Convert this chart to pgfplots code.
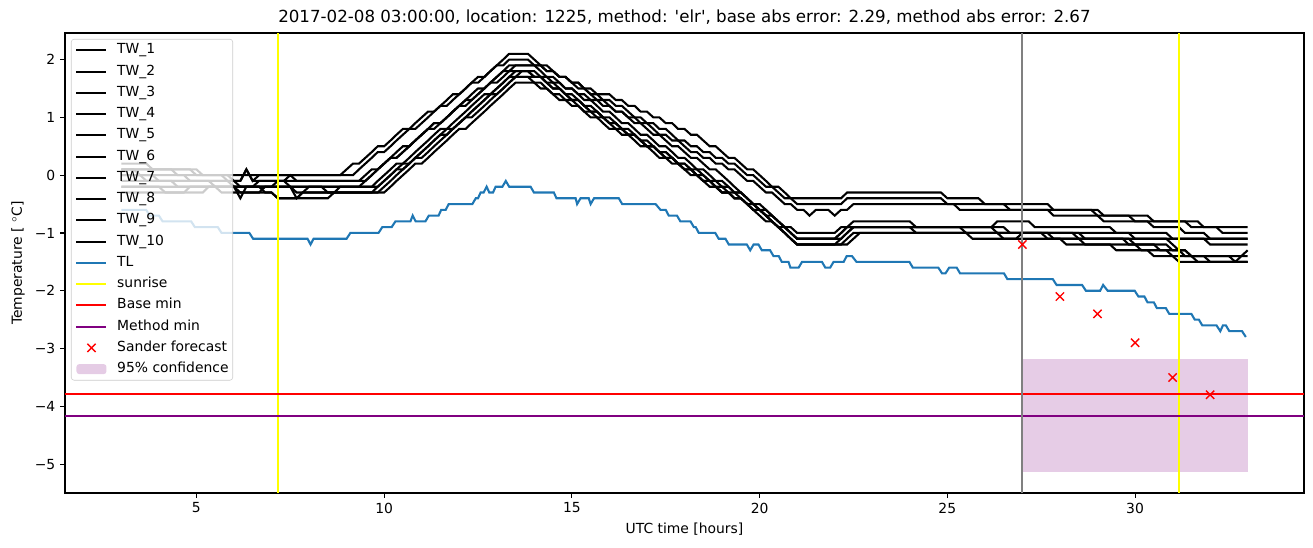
\documentclass[border=0pt]{standalone}
\usepackage{pgfplots}
\pgfplotsset{compat=1.18}
\usepackage{fontspec}
\setmainfont{DejaVu Sans}
\definecolor{tlblue}{HTML}{1F77B4}
\definecolor{mplpurple}{RGB}{128,0,128}
\definecolor{mplyellow}{RGB}{255,255,0}
\definecolor{mplgray}{RGB}{128,128,128}
\pgfplotsset{
  markleg/.style={legend image code/.code={\draw[draw opacity=1,##1] plot coordinates {(10.8pt,0pt)};}},
  tw/.style={black, line width=1.5pt},
}
\begin{document}
\begin{tikzpicture}
\begin{axis}[
  scale only axis, width=892.1pt, height=331.2pt,
  xmin=1.5, xmax=34.5, ymin=-5.5, ymax=2.46,
  axis line style={line width=0.8pt},
  tick align=outside, major tick length=3.5pt,
  every tick/.style={black, line width=0.8pt},
  xtick={5,10,15,20,25,30}, xticklabels={5,10,15,20,25,30},
  ytick={-5,-4,-3,-2,-1,0,1,2},
  yticklabels={−5,−4,−3,−2,−1,0,1,2},
  tick label style={font=\fontsize{10}{12}\selectfont},
  xtick pos=bottom, ytick pos=left,
  xlabel={UTC time [hours]},
  ylabel={Temperature [ $^\circ$C]},
  label style={font=\fontsize{10}{12}\selectfont},
  xlabel style={at={(axis description cs:0.5,-0.0783)}, anchor=center},
  ylabel style={at={(axis description cs:-0.0379,0.5)}, anchor=center},
  title={2017-02-08 03:00:00, location: 1225, method: \textquotesingle elr\textquotesingle, base abs error: 2.29, method abs error: 2.67},
  title style={font=\fontsize{12}{14}\selectfont, at={(axis description cs:0.5,1.0348)}, anchor=center, yshift=-6pt},
  legend style={at={(axis description cs:0.00484,0.987)}, anchor=north west,
    font=\fontsize{10}{12}\selectfont, draw=white!80!black,
    rounded corners=2pt, fill=white, fill opacity=0.8, text opacity=1,
    inner xsep=3pt, inner ysep=3pt, row sep=5.3pt,
    nodes={inner sep=0pt, text height=7.5pt, text depth=2.5pt},
    /tikz/every odd column/.append style={column sep=7pt}},
  legend cell align=left,
  legend image code/.code={\draw[line width=1.5pt,draw opacity=1,#1] (0pt,0pt) -- (21.6pt,0pt);},
]
\coordinate (sw) at (rel axis cs:0,0);
\coordinate (ne) at (rel axis cs:1,1);
% 95% confidence area
\addplot[draw=none, fill=mplpurple, fill opacity=0.2, forget plot] coordinates {(27,-5.14)(33,-5.14)(33,-3.18)(27,-3.18)} -- cycle;
% TW lines
\addplot[tw] coordinates {(3,0.1)(4.33,0.1)(4.5,0.0)(5.67,0.0)(5.83,-0.1)(6.17,-0.1)(6.33,0.1)(6.5,-0.1)(6.67,0.0)(8.83,0.0)
 (9.0,0.1)(9.17,0.2)(9.33,0.2)(9.5,0.3)(9.67,0.4)(9.83,0.5)(10.0,0.5)(10.17,0.6)(10.33,0.7)(10.5,0.8)(10.67,0.8)(10.83,0.9)(11.0,1.0)(11.17,1.1)(11.33,1.1)(11.5,1.2)(11.67,1.3)(11.83,1.4)(12.0,1.4)(12.17,1.5)(12.33,1.6)(12.5,1.7)(12.67,1.7)(12.83,1.8)(13.0,1.9)(13.17,2.0)(13.33,2.1)(13.83,2.1)
 (14.0,2.0)(14.17,1.9)(14.33,1.9)(14.5,1.8)(14.67,1.7)(14.83,1.7)(15.0,1.6)(15.17,1.5)(15.33,1.5)(15.5,1.4)(15.67,1.3)(15.83,1.3)(16.0,1.2)(16.17,1.1)(16.33,1.1)(16.5,1.0)(16.67,0.9)(16.83,0.9)(17.0,0.8)(17.17,0.7)(17.33,0.7)(17.5,0.6)(17.67,0.5)(17.83,0.5)(18.0,0.4)(18.17,0.3)(18.33,0.3)(18.5,0.2)(18.67,0.1)(18.83,0.1)(19.0,0.0)(19.17,-0.1)(19.33,-0.2)(19.5,-0.3)(19.67,-0.4)(19.83,-0.5)(20.0,-0.5)(20.17,-0.6)(20.33,-0.7)(20.5,-0.8)(20.67,-0.9)(20.83,-1.0)(21.0,-1.1)
 (22.0,-1.1)(22.17,-1.0)(22.33,-0.9)(22.5,-0.8)(24.0,-0.8)(24.17,-0.9)(26.17,-0.9)(26.33,-0.8)(27.17,-0.8)(27.33,-0.9)(29.33,-0.9)(29.5,-1.0)(30.83,-1.0)(31.0,-1.1)(31.83,-1.1)(32.0,-1.2)(33,-1.2)};
\addlegendentry{TW\_1}
\addplot[tw] coordinates {(3,0.2)(3.67,0.2)(3.83,0.1)(5.0,0.1)(5.17,0.0)(9.17,0.0)
 (9.33,0.1)(9.5,0.2)(9.67,0.3)(9.83,0.4)(10.0,0.4)(10.17,0.5)(10.33,0.6)(10.5,0.7)(10.67,0.8)(10.83,0.8)(11.0,0.9)(11.17,1.0)(11.33,1.1)(11.5,1.2)(11.67,1.2)(11.83,1.3)(12.0,1.4)(12.17,1.5)(12.33,1.6)(12.5,1.6)(12.67,1.7)(12.83,1.8)(13.0,1.9)(13.17,1.9)(13.33,2.0)(13.83,2.0)
 (14.0,1.9)(14.17,1.9)(14.33,1.8)(14.5,1.8)(14.67,1.7)(14.83,1.7)(15.0,1.6)(15.17,1.6)(15.33,1.5)(15.5,1.5)(15.67,1.4)(16.0,1.4)(16.17,1.3)(16.33,1.3)(16.5,1.2)(16.67,1.2)(16.83,1.1)(17.0,1.1)(17.17,1.0)(17.33,1.0)(17.5,0.9)(17.67,0.9)(17.83,0.8)(18.0,0.8)(18.17,0.7)(18.33,0.7)(18.5,0.6)(18.67,0.5)(18.83,0.5)(19.0,0.4)(19.17,0.3)(19.33,0.3)(19.5,0.2)(19.67,0.1)(19.83,0.1)(20.0,0.0)(20.17,-0.1)(20.33,-0.2)(20.5,-0.2)(20.67,-0.3)(20.83,-0.4)
 (22.17,-0.4)(22.33,-0.3)(24.83,-0.3)(25.0,-0.4)(25.83,-0.4)(26.0,-0.5)(27.67,-0.5)(27.83,-0.6)(29.0,-0.6)(29.17,-0.7)(29.83,-0.7)(30.0,-0.8)(31.67,-0.8)(31.83,-0.9)(33,-0.9)};
\addlegendentry{TW\_2}
\addplot[tw] coordinates {(3,0.0)(3.83,0.0)(4.0,-0.1)(5.83,-0.1)(6.0,-0.2)(6.17,-0.4)(6.33,-0.2)(9.33,-0.2)
 (9.5,-0.1)(9.67,0.0)(9.83,0.1)(10.0,0.2)(10.17,0.3)(10.33,0.3)(10.5,0.4)(10.67,0.5)(10.83,0.6)(11.0,0.7)(11.17,0.8)(11.33,0.9)(11.5,0.9)(11.67,1.0)(11.83,1.1)(12.0,1.2)(12.17,1.3)(12.33,1.4)(12.5,1.5)(12.67,1.5)(12.83,1.6)(13.0,1.7)(13.17,1.8)(13.33,1.9)(14.0,1.9)
 (14.17,1.8)(14.33,1.7)(14.5,1.7)(14.67,1.6)(14.83,1.5)(15.0,1.5)(15.17,1.4)(15.33,1.3)(15.5,1.3)(15.67,1.2)(15.83,1.1)(16.0,1.1)(16.17,1.0)(16.33,0.9)(16.5,0.9)(16.67,0.8)(16.83,0.7)(17.0,0.7)(17.17,0.6)(17.33,0.5)(17.5,0.5)(17.67,0.4)(17.83,0.3)(18.0,0.3)(18.17,0.2)(18.33,0.1)(18.5,0.1)(18.67,0.0)(18.83,-0.1)(19.0,-0.1)(19.17,-0.2)(19.33,-0.3)(19.5,-0.3)(19.67,-0.4)(19.83,-0.5)(20.0,-0.6)(20.17,-0.7)(20.33,-0.8)(20.5,-0.9)(20.67,-1.0)(20.83,-1.1)(21.0,-1.2)
 (22.0,-1.2)(22.17,-1.1)(22.33,-1.0)(22.5,-0.9)(25.33,-0.9)(25.5,-1.0)(27.5,-1.0)(27.67,-1.1)(28.5,-1.1)(28.67,-1.2)(30.0,-1.2)(30.17,-1.3)(30.83,-1.3)(31.0,-1.4)(31.83,-1.4)(32.0,-1.5)(33,-1.5)};
\addlegendentry{TW\_3}
\addplot[tw] coordinates {(3,0.1)(4.83,0.1)(5.0,0.0)(5.83,0.0)(6.0,-0.1)(6.17,-0.2)(7.0,-0.2)(7.17,-0.1)(9.5,-0.1)
 (9.67,0.0)(9.83,0.1)(10.0,0.2)(10.17,0.3)(10.33,0.3)(10.5,0.4)(10.67,0.5)(10.83,0.6)(11.0,0.7)(11.17,0.8)(11.33,0.8)(11.5,0.9)(11.67,1.0)(11.83,1.1)(12.0,1.2)(12.17,1.2)(12.33,1.3)(12.5,1.4)(12.67,1.5)(12.83,1.6)(13.0,1.6)(13.17,1.7)(13.33,1.8)(13.5,1.9)(14.17,1.9)
 (14.33,1.8)(14.5,1.8)(14.67,1.7)(14.83,1.7)(15.0,1.6)(15.17,1.6)(15.33,1.5)(15.5,1.4)(15.67,1.4)(15.83,1.3)(16.0,1.3)(16.17,1.2)(16.33,1.2)(16.5,1.1)(16.67,1.0)(16.83,1.0)(17.0,0.9)(17.17,0.9)(17.33,0.8)(17.5,0.8)(17.67,0.7)(17.83,0.6)(18.0,0.6)(18.17,0.5)(18.33,0.5)(18.5,0.4)(18.67,0.4)(18.83,0.3)(19.0,0.3)(19.17,0.2)(19.33,0.2)(19.5,0.1)(19.67,0.0)(19.83,0.0)(20.0,-0.1)(20.17,-0.2)(20.33,-0.2)(20.5,-0.3)(20.67,-0.4)(20.83,-0.4)(21.0,-0.5)
 (22.17,-0.5)(22.33,-0.4)(24.83,-0.4)(25.0,-0.5)(26.5,-0.5)(26.67,-0.6)(28.83,-0.6)(29.0,-0.7)(30.33,-0.7)(30.5,-0.8)(31.33,-0.8)(31.5,-0.9)(32.17,-0.9)(32.33,-1.0)(33,-1.0)};
\addlegendentry{TW\_4}
\addplot[tw] coordinates {(3,-0.1)(4.33,-0.1)(4.5,-0.2)(6.67,-0.2)(6.83,-0.3)(7.0,-0.3)(7.17,-0.4)(7.67,-0.4)(7.83,-0.3)(8.0,-0.2)(9.67,-0.2)
 (9.83,-0.1)(10.0,0.0)(10.17,0.1)(10.33,0.2)(10.5,0.2)(10.67,0.3)(10.83,0.4)(11.0,0.5)(11.17,0.6)(11.33,0.7)(11.5,0.8)(11.67,0.8)(11.83,0.9)(12.0,1.0)(12.17,1.1)(12.33,1.2)(12.5,1.3)(12.67,1.4)(12.83,1.4)(13.0,1.5)(13.17,1.6)(13.33,1.7)(13.5,1.8)(14.0,1.8)
 (14.17,1.7)(14.33,1.6)(14.5,1.6)(14.67,1.5)(14.83,1.4)(15.0,1.4)(15.17,1.3)(15.33,1.2)(15.5,1.2)(15.67,1.1)(15.83,1.0)(16.0,1.0)(16.17,0.9)(16.33,0.8)(16.5,0.8)(16.67,0.7)(16.83,0.6)(17.0,0.6)(17.17,0.5)(17.33,0.4)(17.5,0.4)(17.67,0.3)(17.83,0.2)(18.0,0.2)(18.17,0.1)(18.33,0.0)(18.5,0.0)(18.67,-0.1)(18.83,-0.2)(19.0,-0.2)(19.17,-0.3)(19.33,-0.4)(19.5,-0.4)(19.67,-0.5)(19.83,-0.6)(20.0,-0.6)(20.17,-0.7)(20.33,-0.8)(20.5,-0.9)(20.67,-0.9)(20.83,-1.0)(21.0,-1.1)
 (22.17,-1.1)(22.33,-1.0)(22.5,-0.9)(24.0,-0.9)(24.17,-1.0)(26.33,-1.0)(26.5,-1.1)(28.0,-1.1)(28.17,-1.2)(29.33,-1.2)(29.5,-1.3)(30.33,-1.3)(30.5,-1.4)(31.0,-1.4)(31.17,-1.5)(32.67,-1.5)(32.83,-1.4)(33.0,-1.3)};
\addlegendentry{TW\_5}
\addplot[tw] coordinates {(3,0.0)(3.5,0.0)(3.67,-0.1)(5.33,-0.1)(5.5,-0.2)(6.5,-0.2)(6.67,-0.1)(7.33,-0.1)(7.5,-0.2)(7.67,-0.3)(8.67,-0.3)(8.83,-0.2)(9.83,-0.2)
 (10.0,-0.1)(10.17,0.0)(10.33,0.1)(10.5,0.2)(10.67,0.2)(10.83,0.3)(11.0,0.4)(11.17,0.5)(11.33,0.6)(11.5,0.7)(11.67,0.8)(11.83,0.8)(12.0,0.9)(12.17,1.0)(12.33,1.1)(12.5,1.2)(12.67,1.3)(12.83,1.4)(13.0,1.4)(13.17,1.5)(13.33,1.6)(13.5,1.7)(13.67,1.8)(13.83,1.8)
 (14.0,1.7)(14.17,1.7)(14.33,1.6)(14.5,1.5)(14.67,1.5)(14.83,1.4)(15.0,1.3)(15.17,1.3)(15.33,1.2)(15.5,1.1)(15.67,1.1)(15.83,1.0)(16.0,0.9)(16.17,0.9)(16.33,0.8)(16.5,0.7)(16.67,0.7)(16.83,0.6)(17.0,0.5)(17.17,0.5)(17.33,0.4)(17.5,0.3)(17.67,0.3)(17.83,0.2)(18.0,0.1)(18.17,0.1)(18.33,0.0)(18.5,-0.1)(18.67,-0.1)(18.83,-0.2)(19.0,-0.3)(19.33,-0.3)(19.5,-0.4)(19.67,-0.5)(19.83,-0.5)(20.0,-0.6)(20.17,-0.7)(20.33,-0.7)(20.5,-0.8)(20.67,-0.9)(20.83,-0.9)(21.0,-1.0)
 (22.0,-1.0)(22.17,-0.9)(26.17,-0.9)(26.33,-1.0)(28.5,-1.0)(28.67,-1.1)(30.83,-1.1)(31.0,-1.2)(31.17,-1.3)(31.33,-1.4)(33,-1.4)};
\addlegendentry{TW\_6}
\addplot[tw] coordinates {(3,-0.2)(4.0,-0.2)(4.17,-0.3)(5.17,-0.3)(5.33,-0.2)(7.5,-0.2)(7.67,-0.4)(7.83,-0.3)(9.83,-0.3)
 (10.0,-0.2)(10.17,-0.1)(10.33,0.0)(10.5,0.1)(10.67,0.2)(10.83,0.3)(11.0,0.3)(11.17,0.4)(11.33,0.5)(11.5,0.6)(11.67,0.7)(11.83,0.8)(12.0,0.9)(12.17,1.0)(12.33,1.0)(12.5,1.1)(12.67,1.2)(12.83,1.3)(13.0,1.4)(13.17,1.5)(13.33,1.6)(13.5,1.7)(14.17,1.7)
 (14.33,1.6)(14.5,1.5)(14.67,1.5)(14.83,1.4)(15.0,1.3)(15.17,1.3)(15.33,1.2)(15.5,1.1)(15.67,1.1)(15.83,1.0)(16.0,0.9)(16.17,0.9)(16.33,0.8)(16.5,0.7)(16.67,0.7)(16.83,0.6)(17.0,0.5)(17.17,0.5)(17.33,0.4)(17.5,0.3)(17.67,0.3)(17.83,0.2)(18.0,0.1)(18.17,0.1)(18.33,0.0)(18.5,-0.1)(18.67,-0.1)(18.83,-0.2)(19.0,-0.3)(19.17,-0.3)(19.33,-0.4)(19.5,-0.4)(19.67,-0.5)(19.83,-0.6)(20.0,-0.7)(20.17,-0.8)(20.33,-0.8)(20.5,-0.9)(20.67,-1.0)(20.83,-1.1)(21.0,-1.2)
 (22.17,-1.2)(22.33,-1.1)(22.5,-1.0)(25.5,-1.0)(25.67,-1.1)(26.83,-1.1)(27.0,-1.0)(28.33,-1.0)(28.5,-1.1)(29.67,-1.1)(29.83,-1.2)(30.5,-1.2)(30.67,-1.3)(31.33,-1.3)(31.5,-1.4)(31.67,-1.5)(33,-1.5)};
\addlegendentry{TW\_7}
\addplot[tw] coordinates {(3,-0.3)(4.67,-0.3)(4.83,-0.2)(6.0,-0.2)(6.17,-0.3)(7.0,-0.3)(7.17,-0.4)(8.5,-0.4)(8.67,-0.3)(9.67,-0.3)
 (9.83,-0.2)(10.0,-0.1)(10.17,0.0)(10.33,0.1)(10.5,0.1)(10.67,0.2)(10.83,0.3)(11.0,0.4)(11.17,0.5)(11.33,0.6)(11.5,0.7)(11.67,0.7)(11.83,0.8)(12.0,0.9)(12.17,1.0)(12.33,1.1)(12.5,1.2)(12.67,1.3)(12.83,1.4)(13.0,1.5)(13.17,1.6)(13.33,1.7)(13.83,1.7)
 (14.0,1.6)(14.17,1.6)(14.33,1.5)(14.5,1.4)(14.67,1.4)(14.83,1.3)(15.0,1.3)(15.17,1.2)(15.33,1.1)(15.5,1.1)(15.67,1.0)(15.83,1.0)(16.0,0.9)(16.17,0.8)(16.33,0.8)(16.5,0.7)(16.67,0.7)(16.83,0.6)(17.0,0.5)(17.17,0.5)(17.33,0.4)(17.5,0.4)(17.67,0.3)(17.83,0.2)(18.0,0.2)(18.17,0.1)(18.33,0.1)(18.5,0.0)(18.67,-0.1)(18.83,-0.1)(19.0,-0.2)(19.17,-0.2)(19.33,-0.3)(19.5,-0.3)(19.67,-0.4)(19.83,-0.5)(20.0,-0.6)(20.17,-0.6)(20.33,-0.7)(20.5,-0.8)(20.67,-0.9)(20.83,-1.0)(21.0,-1.1)
 (22.0,-1.1)(22.17,-1.0)(22.33,-0.9)(26.5,-0.9)(26.67,-1.0)(29.83,-1.0)(30.0,-1.1)(33,-1.1)};
\addlegendentry{TW\_8}
\addplot[tw] coordinates {(3,-0.2)(5.5,-0.2)(5.67,-0.3)(6.67,-0.3)(6.83,-0.2)(8.33,-0.2)(8.5,-0.3)(10.0,-0.3)
 (10.17,-0.2)(10.33,-0.1)(10.5,0.0)(10.67,0.1)(10.83,0.2)(11.0,0.2)(11.17,0.3)(11.33,0.4)(11.5,0.5)(11.67,0.6)(11.83,0.7)(12.0,0.8)(12.17,0.8)(12.33,0.9)(12.5,1.0)(12.67,1.1)(12.83,1.2)(13.0,1.3)(13.17,1.4)(13.33,1.5)(13.5,1.6)(14.0,1.6)
 (14.17,1.5)(14.33,1.5)(14.5,1.4)(14.67,1.3)(14.83,1.3)(15.0,1.2)(15.17,1.2)(15.33,1.1)(15.5,1.0)(15.67,1.0)(15.83,0.9)(16.0,0.8)(16.17,0.8)(16.33,0.7)(16.5,0.7)(16.67,0.6)(16.83,0.5)(17.0,0.5)(17.17,0.4)(17.33,0.3)(17.5,0.3)(17.67,0.2)(17.83,0.2)(18.0,0.1)(18.17,0.0)(18.33,0.0)(18.5,-0.1)(18.67,-0.2)(18.83,-0.2)(19.0,-0.3)(19.17,-0.3)(19.33,-0.4)(19.5,-0.4)(19.67,-0.5)(19.83,-0.6)(20.0,-0.6)(20.17,-0.7)(20.33,-0.8)(20.5,-0.9)(20.67,-1.0)(20.83,-1.1)(21.0,-1.2)
 (22.33,-1.2)(22.5,-1.1)(22.67,-1.0)(27.67,-1.0)(27.83,-1.1)(29.83,-1.1)(30.0,-1.2)(30.83,-1.2)(31.0,-1.3)(31.33,-1.3)(31.5,-1.4)(32.5,-1.4)(32.67,-1.5)(33,-1.5)};
\addlegendentry{TW\_9}
\addplot[tw] coordinates {(3,0.1)(3.33,0.1)(3.5,0.0)(4.67,0.0)(4.83,-0.1)(6.17,-0.1)(6.33,0.1)(6.5,-0.1)(7.33,-0.1)(7.5,0.0)(7.67,-0.1)(9.33,-0.1)
 (9.5,0.0)(9.67,0.1)(9.83,0.1)(10.0,0.2)(10.17,0.3)(10.33,0.4)(10.5,0.5)(10.67,0.5)(10.83,0.6)(11.0,0.7)(11.17,0.8)(11.33,0.9)(11.5,0.9)(11.67,1.0)(11.83,1.1)(12.0,1.2)(12.17,1.3)(12.33,1.3)(12.5,1.4)(12.67,1.5)(12.83,1.6)(13.0,1.7)(13.17,1.8)(13.83,1.8)
 (14.0,1.7)(14.33,1.7)(14.5,1.6)(14.67,1.6)(14.83,1.5)(15.0,1.5)(15.17,1.4)(15.33,1.4)(15.5,1.3)(15.67,1.3)(15.83,1.2)(16.0,1.2)(16.17,1.1)(16.33,1.1)(16.5,1.0)(16.67,1.0)(16.83,0.9)(17.0,0.9)(17.17,0.8)(17.33,0.7)(17.5,0.7)(17.67,0.6)(17.83,0.6)(18.0,0.5)(18.17,0.4)(18.33,0.4)(18.5,0.3)(18.67,0.3)(18.83,0.2)(19.0,0.2)(19.17,0.1)(19.33,0.1)(19.5,0.0)(19.67,-0.1)(19.83,-0.1)(20.0,-0.2)(20.17,-0.3)(20.33,-0.3)(20.5,-0.4)(20.67,-0.5)(20.83,-0.5)(21.0,-0.6)
 (21.17,-0.6)(21.33,-0.7)(21.5,-0.6)(21.83,-0.6)(22.0,-0.7)(22.17,-0.6)(22.33,-0.6)(22.5,-0.5)(25.17,-0.5)(25.33,-0.6)(27.67,-0.6)(27.83,-0.7)(29.0,-0.7)(29.17,-0.8)(30.33,-0.8)(30.5,-0.9)(31.17,-0.9)(31.33,-1.0)(31.83,-1.0)(32.0,-1.1)(33,-1.1)};
\addlegendentry{TW\_10}
% TL
\addplot[tlblue, line width=1.5pt] coordinates {(3.0,-0.6)(3.66,-0.6)(3.76,-0.7)(4.0,-0.7)(4.1,-0.8)(4.86,-0.8)(4.96,-0.9)(5.57,-0.9)(5.67,-1.0)(6.41,-1.0)(6.51,-1.1)(7.96,-1.1)(8.04,-1.2)(8.12,-1.1)(9.0,-1.1)(9.1,-1.0)(9.85,-1.0)(9.95,-0.9)(10.2,-0.9)(10.3,-0.8)(10.7,-0.8)(10.76,-0.7)(10.84,-0.8)(11.1,-0.8)(11.19,-0.7)(11.45,-0.7)(11.52,-0.6)(11.64,-0.6)(11.72,-0.5)(12.35,-0.5)(12.44,-0.4)(12.5,-0.4)(12.57,-0.3)(12.65,-0.3)(12.73,-0.2)(12.8,-0.3)(12.9,-0.3)(12.97,-0.2)(13.15,-0.2)(13.24,-0.1)(13.33,-0.2)(13.9,-0.2)(13.99,-0.3)(14.52,-0.3)(14.59,-0.4)(15.1,-0.4)(15.14,-0.5)(15.23,-0.4)(15.45,-0.4)(15.5,-0.5)(15.59,-0.4)(16.25,-0.4)(16.34,-0.5)(17.23,-0.5)(17.36,-0.6)(17.5,-0.6)(17.58,-0.7)(17.8,-0.7)(17.89,-0.8)(18.16,-0.8)(18.25,-0.9)(18.3,-0.9)(18.38,-1.0)(18.82,-1.0)(18.91,-1.1)(19.09,-1.1)(19.18,-1.2)(19.66,-1.2)(19.75,-1.3)(19.84,-1.2)(19.97,-1.2)(20.06,-1.3)(20.28,-1.3)(20.37,-1.4)(20.51,-1.4)(20.59,-1.5)(20.77,-1.5)(20.82,-1.6)(21.04,-1.6)(21.13,-1.5)(21.66,-1.5)(21.75,-1.6)(21.88,-1.6)(21.97,-1.5)(22.24,-1.5)(22.32,-1.4)(22.46,-1.4)(22.58,-1.5)(23.99,-1.5)(24.08,-1.6)(24.76,-1.6)(24.86,-1.7)(24.95,-1.7)(25.05,-1.6)(25.25,-1.6)(25.34,-1.7)(26.51,-1.7)(26.6,-1.8)(27.81,-1.8)(27.91,-1.9)(28.59,-1.9)(28.69,-2.0)(29.07,-2.0)(29.15,-1.9)(29.27,-2.0)(29.99,-2.0)(30.09,-2.1)(30.25,-2.1)(30.33,-2.2)(30.5,-2.2)(30.58,-2.3)(30.82,-2.3)(30.91,-2.4)(31.5,-2.4)(31.59,-2.5)(31.7,-2.5)(31.79,-2.6)(32.17,-2.6)(32.27,-2.7)(32.34,-2.6)(32.42,-2.6)(32.51,-2.7)(32.85,-2.7)(32.95,-2.8)};
\addlegendentry{TL}
% sunrise
\addplot[mplyellow, line width=1.5pt] coordinates {(7.17,-5.5)(7.17,2.46)};
\addlegendentry{sunrise}
\addplot[mplyellow, line width=1.5pt, forget plot] coordinates {(31.16,-5.5)(31.16,2.46)};
% base min / method min
\addplot[red, line width=1.5pt] coordinates {(1.5,-3.78)(34.5,-3.78)};
\addlegendentry{Base min}
\addplot[mplpurple, line width=1.5pt] coordinates {(1.5,-4.165)(34.5,-4.165)};
\addlegendentry{Method min}
% gray line
\addplot[mplgray, line width=1.5pt, forget plot] coordinates {(27,-5.5)(27,2.46)};
% Sander forecast
\addplot[red, only marks, mark=x, mark size=4.2pt, mark options={line width=1pt}, markleg]
  coordinates {(27,-1.2)(28,-2.1)(29,-2.4)(30,-2.9)(31,-3.5)(32,-3.8)};
\addlegendentry{Sander forecast}
\addlegendimage{legend image code/.code={\path[draw=none, fill=mplpurple, fill opacity=0.2] (0pt,-3.6pt) rectangle (21.6pt,3.6pt);}}
\addlegendentry{95\% confidence}
\end{axis}
\pgfresetboundingbox
\path[use as bounding box] ([xshift=-46.8pt,yshift=-38.88pt]sw) rectangle ([xshift=6.48pt,yshift=23.76pt]ne);
\end{tikzpicture}
\end{document}
